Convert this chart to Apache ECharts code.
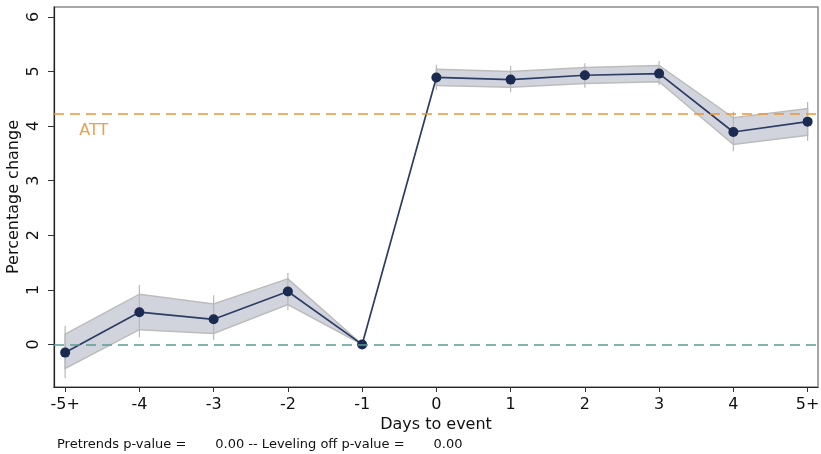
<!DOCTYPE html>
<html><head><meta charset="utf-8">
<script src="https://cdn.jsdelivr.net/npm/echarts@6/dist/echarts.min.js"></script>
<style>html,body{margin:0;padding:0;background:#fff}#chart{width:821px;height:454px}</style>
</head><body><div id="chart"></div>
<script>
// Event-study estimates by day relative to the event
const days = ['-5+', '-4', '-3', '-2', '-1', '0', '1', '2', '3', '4', '5+'];
const estimate = [-0.15, 0.59, 0.46, 0.97, 0, 4.89, 4.85, 4.93, 4.96, 3.89, 4.08];
// Shaded confidence band
const bandLow = [-0.44, 0.27, 0.20, 0.73, 0, 4.74, 4.71, 4.78, 4.81, 3.66, 3.83];
const bandHigh = [0.19, 0.92, 0.74, 1.20, 0, 5.04, 5.00, 5.07, 5.11, 4.15, 4.32];
// Wider interval shown as whiskers
const whiskerLow = [-0.62, 0.13, 0.08, 0.63, 0, 4.66, 4.62, 4.70, 4.75, 3.54, 3.73];
const whiskerHigh = [0.34, 1.09, 0.90, 1.31, 0, 5.12, 5.10, 5.15, 5.19, 4.26, 4.44];
const att = 4.23;
const yTicks = [0, 1, 2, 3, 4, 5, 6];
// Index ranges of the pre-event and post-event bands
const bandSegments = [[0, 4], [5, 10]];
const footnote = 'Pretrends p-value =       0.00 -- Leveling off p-value =       0.00';

const FONT = 'DejaVu Sans';
const xIdx = days.map((d, i) => i);

const chart = echarts.init(document.getElementById('chart'), null, { renderer: 'canvas' });

chart.setOption({
  animation: false,
  backgroundColor: '#fff',
  textStyle: { fontFamily: FONT },
  grid: {
    left: 54, right: 3, top: 7, bottom: 67,
    outerBoundsMode: 'none', containLabel: false,
    show: true, borderColor: '#8a8a8a', borderWidth: 1.5, backgroundColor: 'transparent'
  },
  xAxis: {
    type: 'value', min: -0.15, max: 10.14,
    name: 'Days to event', nameLocation: 'middle', nameGap: 30, nameMoveOverlap: false,
    nameTextStyle: { fontFamily: FONT, fontSize: 16, color: '#111' },
    axisLine: { show: true, onZero: false, lineStyle: { color: '#222', width: 1.2 } },
    axisTick: { show: true, length: 5, customValues: xIdx, lineStyle: { color: '#333' } },
    axisLabel: {
      customValues: xIdx, margin: 10,
      formatter: v => days[Math.round(v)],
      fontFamily: FONT, fontSize: 16, color: '#111'
    },
    splitLine: { show: false }
  },
  yAxis: {
    type: 'value', min: -0.78, max: 6.18,
    name: 'Percentage change', nameLocation: 'middle', nameGap: 32, nameRotate: 90,
    nameMoveOverlap: false,
    nameTextStyle: { fontFamily: FONT, fontSize: 16, color: '#111' },
    axisLine: { show: true, onZero: false, lineStyle: { color: '#222', width: 1.2 } },
    axisTick: { show: true, length: 6, customValues: yTicks, lineStyle: { color: '#333' } },
    axisLabel: {
      customValues: yTicks, rotate: 90, margin: 12,
      fontFamily: FONT, fontSize: 16, color: '#111'
    },
    splitLine: { show: false }
  },
  graphic: [{
    type: 'text', left: 57, top: 438,
    style: { text: footnote, fontFamily: FONT, fontSize: 13, fill: '#111' }
  }],
  series: [
    {
      // reference lines: zero and the average treatment effect
      type: 'line', data: [], z: 1, silent: true,
      markLine: {
        symbol: 'none', silent: true, animation: false,
        label: { show: false },
        data: [
          { yAxis: 0, lineStyle: { color: '#5a9d92', type: [10, 6], width: 1.5 } },
          { yAxis: att, lineStyle: { color: '#eb9530', type: [10, 6], width: 1.5 } }
        ]
      }
    },
    {
      type: 'scatter', z: 1, silent: true, symbolSize: 0,
      data: [[0.19, 3.92]],
      label: {
        show: true, position: 'right', distance: 0, formatter: 'ATT',
        fontFamily: FONT, fontSize: 16, color: '#e58a22'
      }
    },
    {
      // shaded bands, one polygon per segment
      type: 'custom', z: 2, silent: true,
      data: bandSegments,
      encode: { x: [0, 1] },
      renderItem: (params, api) => {
        const a = api.value(0), b = api.value(1);
        const pts = [];
        for (let i = a; i <= b; i++) pts.push(api.coord([i, bandHigh[i]]));
        for (let i = b; i >= a; i--) pts.push(api.coord([i, bandLow[i]]));
        return {
          type: 'polygon',
          shape: { points: pts },
          style: { fill: '#d1d4dd', stroke: '#bcbcbc', lineWidth: 1.5 }
        };
      }
    },
    {
      type: 'custom', z: 3, silent: true,
      data: xIdx.map(i => [i, whiskerLow[i], whiskerHigh[i]]),
      encode: { x: 0, y: [1, 2] },
      renderItem: (params, api) => {
        const lo = api.coord([api.value(0), api.value(1)]);
        const hi = api.coord([api.value(0), api.value(2)]);
        return {
          type: 'line',
          shape: { x1: lo[0], y1: lo[1], x2: hi[0], y2: hi[1] },
          style: { stroke: '#b8b8b8', lineWidth: 1.2 }
        };
      }
    },
    {
      type: 'line', z: 4, silent: true,
      data: xIdx.map(i => [i, estimate[i]]),
      symbol: 'circle', symbolSize: 10, showAllSymbol: true,
      lineStyle: { color: '#2c3c63', width: 1.7 },
      itemStyle: { color: '#1b2a51', borderWidth: 0 }
    }
  ]
});
</script>
</body></html>
